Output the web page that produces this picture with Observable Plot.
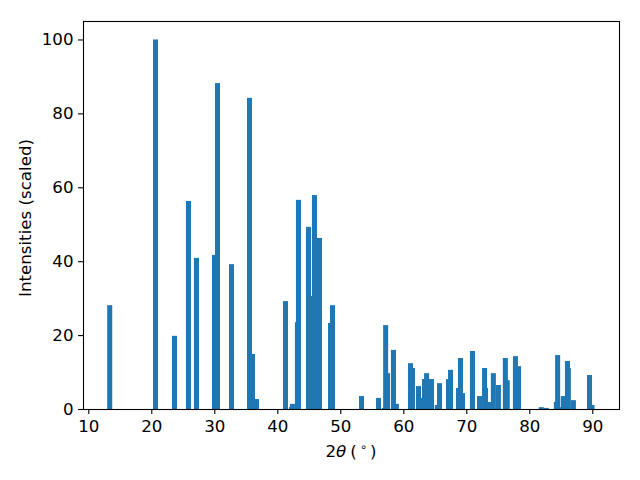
<!DOCTYPE html>
<html>
<head>
<meta charset="utf-8">
<script src="https://cdn.jsdelivr.net/npm/d3@7"></script>
<script src="https://cdn.jsdelivr.net/npm/@observablehq/plot@0.6"></script>
<style>
  html, body { margin: 0; padding: 0; background: white; }
  svg { display: block; }
</style>
</head>
<body>
<div id="chart"></div>
<script>
const angles = [
  13.4, 20.67, 23.68, 25.9, 27.17, 30.03, 30.51, 32.73, 35.59, 36.06, 36.7,
  41.3, 42.25, 42.4, 43.2, 43.36, 44.95, 45.3, 45.9, 46.7, 48.45, 48.76,
  53.37, 56.07, 57.0, 57.2, 57.5, 58.44, 58.9, 61.14, 61.46, 62.41, 62.6,
  63.37, 63.7, 64.48, 65.4, 65.75, 67.17, 67.5, 68.76, 69.08, 69.4, 70.98,
  72.1, 72.9, 73.05, 73.52, 74.3, 75.1, 76.2, 76.5, 77.8, 78.3, 81.9, 82.7,
  84.3, 84.5, 84.7, 85.4, 86.06, 86.2, 87.0, 89.56, 89.95
];
const intensities = [
  28.1, 100, 19.8, 56.3, 40.9, 41.7, 88.2, 39.2, 84.2, 14.9, 2.7,
  29.2, 0.5, 1.4, 23.5, 56.6, 49.3, 30.6, 57.9, 46.3, 23.3, 28.1,
  3.5, 3.0, 0.3, 22.7, 9.7, 16.0, 1.4, 12.4, 11.1, 6.2, 3.0,
  8.1, 9.7, 8.1, 1.1, 7.0, 8.1, 10.6, 5.7, 13.8, 4.3, 15.7,
  3.5, 11.1, 5.7, 1.9, 9.7, 6.5, 13.8, 7.8, 14.3, 11.6, 0.5, 0.3,
  1.9, 14.6, 0.5, 3.5, 13.0, 11.1, 2.4, 9.2, 1.1
];
const xTicks = [10, 20, 30, 40, 50, 60, 70, 80, 90];
const yTicks = [0, 20, 40, 60, 80, 100];

const data = angles.map((a, i) => ({angle: a, intensity: intensities[i]}));
const barWidth = 0.8;
const fs = "16.67px";

const svg = Plot.plot({
  width: 640,
  height: 480,
  marginLeft: 83,
  marginRight: 21,
  marginTop: 21,
  marginBottom: 71,
  style: {fontFamily: "DejaVu Sans", fontSize: fs, background: "white", color: "black"},
  x: {domain: [9.16, 94.24]},
  y: {domain: [0, 105]},
  marks: [
    Plot.rectY(data, {
      x1: d => d.angle - barWidth / 2,
      x2: d => d.angle + barWidth / 2,
      y: "intensity",
      fill: "#1f77b4"
    }),
    Plot.frame({stroke: "black", strokeWidth: 1.1}),
    Plot.axisX({ticks: xTicks, tickSize: 5, tickPadding: 6, label: null, fontSize: fs, strokeWidth: 1.1}),
    Plot.axisY({ticks: yTicks, tickSize: 5, tickPadding: 5, label: null, fontSize: fs, strokeWidth: 1.1})
  ]
});

const s = d3.select(svg);
const xl = s.append("text")
  .attr("x", 351).attr("y", 457)
  .attr("text-anchor", "middle")
  .attr("font-family", "DejaVu Sans")
  .attr("font-size", fs)
  .attr("fill", "black");
xl.append("tspan").text("2");
xl.append("tspan").attr("font-style", "italic").text("θ");
xl.append("tspan").attr("dx", "4").text("(");
xl.append("tspan").attr("font-size", "11.5px").attr("dx", "3").attr("dy", "-6").text("∘");
xl.append("tspan").attr("dx", "3").attr("dy", "6").text(")");

s.append("text")
  .attr("transform", "translate(31,218) rotate(-90)")
  .attr("text-anchor", "middle")
  .attr("font-family", "DejaVu Sans")
  .attr("font-size", fs)
  .attr("fill", "black")
  .text("Intensities (scaled)");

document.getElementById("chart").appendChild(svg);
</script>
</body>
</html>
